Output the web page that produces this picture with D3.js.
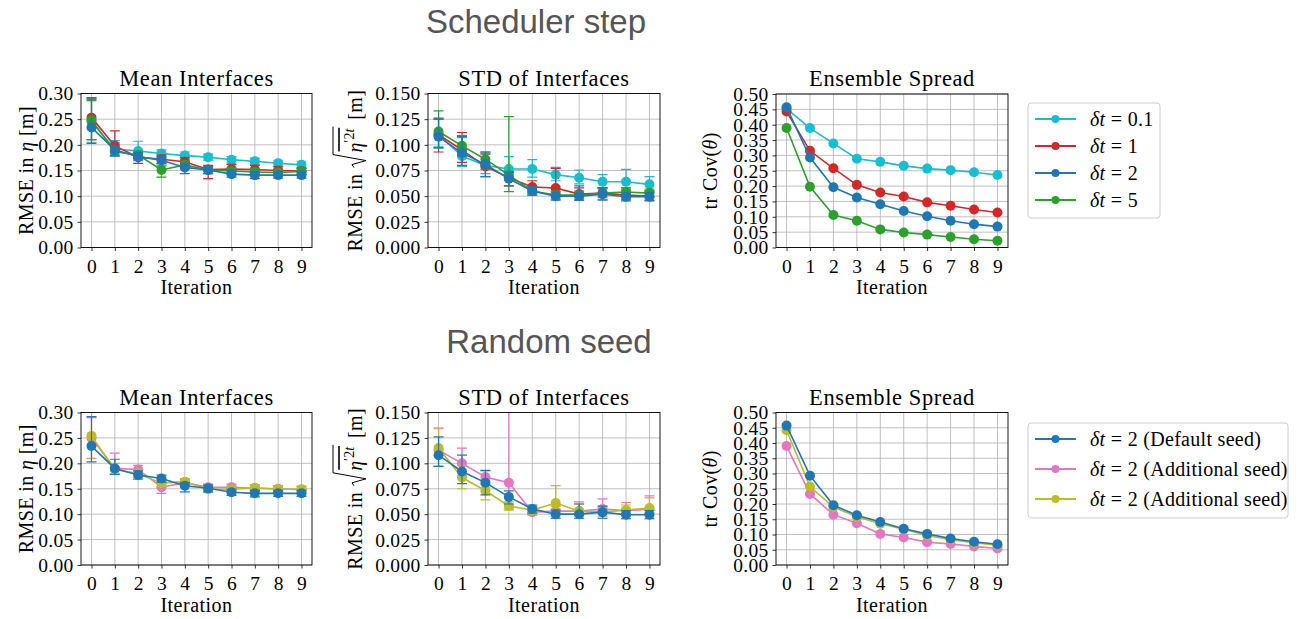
<!DOCTYPE html>
<html><head><meta charset="utf-8">
<script src="https://cdn.jsdelivr.net/npm/d3@7"></script>
<style>
body{margin:0;background:#fff;}
svg text{font-family:"Liberation Serif","Times New Roman",serif;fill:#000;}
</style></head><body>
<svg id="c" width="1303" height="619"></svg>
<script>
// ---------------- DATA ----------------
const iterations = [0,1,2,3,4,5,6,7,8,9];
const meanTicks = [0,0.05,0.10,0.15,0.20,0.25,0.30];
const stdTicks = [0,0.025,0.05,0.075,0.10,0.125,0.15];
const spreadTicks = [0,0.05,0.10,0.15,0.20,0.25,0.30,0.35,0.40,0.45,0.50];

const schedLabels = ["0.1","1","2","5"];
const seedLabels = ["(Default seed)","(Additional seed)","(Additional seed)"];

// Mean Interfaces (scheduler step)
const meanDt01 = [0.245,0.192,0.188,0.183,0.179,0.176,0.171,0.168,0.164,0.161];
const meanDt01Lo = [0.040,0.010,0.012,0.007,0.007,0.006,0.006,0.006,0.006,0.007];
const meanDt01Hi = [0.045,0.012,0.019,0.007,0.007,0.006,0.006,0.006,0.006,0.007];
const meanDt1 = [0.253,0.198,0.176,0.172,0.167,0.152,0.153,0.152,0.150,0.149];
const meanDt1Lo = [0.043,0.012,0.012,0.008,0.008,0.018,0.008,0.007,0.007,0.006];
const meanDt1Hi = [0.036,0.029,0.008,0.008,0.008,0.008,0.009,0.008,0.007,0.006];
const meanDt2 = [0.234,0.190,0.177,0.170,0.156,0.151,0.143,0.141,0.141,0.141];
const meanDt2Lo = [0.031,0.012,0.008,0.007,0.012,0.007,0.006,0.007,0.006,0.006];
const meanDt2Hi = [0.058,0.018,0.008,0.007,0.006,0.006,0.006,0.006,0.006,0.006];
const meanDt5 = [0.248,0.187,0.180,0.151,0.161,0.151,0.149,0.147,0.146,0.148];
const meanDt5Lo = [0.038,0.008,0.008,0.014,0.008,0.007,0.007,0.006,0.006,0.006];
const meanDt5Hi = [0.038,0.008,0.008,0.008,0.007,0.006,0.006,0.006,0.006,0.006];

// STD of Interfaces (scheduler step)
const stdDt01 = [0.110,0.089,0.080,0.0765,0.0765,0.071,0.068,0.064,0.064,0.0615];
const stdDt01Lo = [0.012,0.010,0.008,0.008,0.008,0.006,0.006,0.006,0.006,0.006];
const stdDt01Hi = [0.015,0.018,0.012,0.012,0.009,0.007,0.0075,0.007,0.012,0.0075];
const stdDt1 = [0.110,0.095,0.079,0.068,0.059,0.058,0.052,0.053,0.051,0.050];
const stdDt1Lo = [0.017,0.012,0.010,0.008,0.006,0.006,0.006,0.006,0.004,0.004];
const stdDt1Hi = [0.015,0.017,0.012,0.006,0.006,0.019,0.006,0.005,0.005,0.005];
const stdDt2 = [0.108,0.092,0.081,0.067,0.055,0.050,0.050,0.052,0.0495,0.0495];
const stdDt2Lo = [0.011,0.012,0.012,0.007,0.004,0.004,0.004,0.006,0.004,0.004];
const stdDt2Hi = [0.018,0.016,0.012,0.006,0.004,0.004,0.010,0.006,0.004,0.004];
const stdDt5 = [0.113,0.099,0.086,0.0705,0.055,0.051,0.051,0.053,0.054,0.053];
const stdDt5Lo = [0.016,0.010,0.010,0.016,0.004,0.004,0.004,0.004,0.004,0.004];
const stdDt5Hi = [0.020,0.010,0.007,0.057,0.004,0.004,0.004,0.004,0.004,0.004];

// Ensemble Spread (scheduler step)
const spreadDt01 = [0.452,0.389,0.339,0.289,0.279,0.266,0.257,0.252,0.245,0.236];
const spreadDt1 = [0.443,0.315,0.258,0.204,0.179,0.166,0.147,0.136,0.124,0.114];
const spreadDt2 = [0.457,0.293,0.196,0.163,0.141,0.119,0.102,0.087,0.076,0.068];
const spreadDt5 = [0.389,0.198,0.106,0.087,0.059,0.049,0.042,0.034,0.027,0.022];

// Random seed: additional seeds (seed A = pink, seed B = olive); default seed = dt=2 above
const meanSeedA = [0.250,0.190,0.188,0.153,0.162,0.153,0.153,0.151,0.150,0.148];
const meanSeedALo = [0.040,0.010,0.008,0.012,0.006,0.006,0.006,0.006,0.006,0.006];
const meanSeedAHi = [0.040,0.030,0.008,0.007,0.006,0.006,0.006,0.006,0.006,0.006];
const meanSeedB = [0.254,0.188,0.180,0.161,0.164,0.149,0.149,0.152,0.149,0.149];
const meanSeedBLo = [0.045,0.008,0.008,0.007,0.006,0.006,0.006,0.006,0.006,0.006];
const meanSeedBHi = [0.046,0.012,0.008,0.007,0.006,0.006,0.006,0.006,0.006,0.006];

const stdSeedA = [0.113,0.100,0.0865,0.081,0.052,0.053,0.053,0.055,0.0535,0.055];
const stdSeedALo = [0.016,0.012,0.010,0.026,0.003,0.003,0.004,0.004,0.004,0.004];
const stdSeedAHi = [0.021,0.015,0.006,0.200,0.005,0.005,0.009,0.010,0.008,0.013];
const stdSeedB = [0.115,0.086,0.073,0.058,0.054,0.061,0.053,0.052,0.054,0.056];
const stdSeedBLo = [0.018,0.011,0.009,0.004,0.004,0.006,0.004,0.004,0.004,0.005];
const stdSeedBHi = [0.020,0.012,0.006,0.004,0.004,0.017,0.007,0.005,0.005,0.010];

const spreadSeedA = [0.390,0.233,0.165,0.137,0.102,0.090,0.075,0.069,0.061,0.054];
const spreadSeedB = [0.442,0.257,0.190,0.158,0.135,0.117,0.097,0.083,0.073,0.065];

// colours
const C = {cyan:"#17becf", red:"#d62728", blue:"#1f77b4", green:"#2ca02c", pink:"#e377c2", olive:"#bcbd22"};

// ---------------- DRAW ----------------
const svg = d3.select("#c");
let clipId = 0;
const TICK_FS = "19.5px", LAB_FS = "20px";

function panel(o){
  const g = svg.append("g");
  const x = d3.scaleLinear().domain([-0.45, 9.45]).range([o.x0, o.x1]);
  const y = d3.scaleLinear().domain([0, o.ymax]).range([o.y1, o.y0]);
  // grid
  g.append("g").selectAll("line").data(iterations).join("line")
    .attr("x1", d=>x(d)).attr("x2", d=>x(d)).attr("y1", o.y0).attr("y2", o.y1)
    .attr("stroke","#b0b0b0").attr("stroke-width",0.8);
  g.append("g").selectAll("line").data(o.ticks).join("line")
    .attr("x1", o.x0).attr("x2", o.x1).attr("y1", d=>y(d)).attr("y2", d=>y(d))
    .attr("stroke","#b0b0b0").attr("stroke-width",0.8);
  // clip
  const id = "clip"+(clipId++);
  svg.append("clipPath").attr("id",id).append("rect")
    .attr("x",o.x0-8).attr("y",o.y0).attr("width",o.x1-o.x0+16).attr("height",o.y1-o.y0);
  const data = g.append("g").attr("clip-path",`url(#${id})`);
  const line = d3.line().x((d,i)=>x(iterations[i])).y(d=>y(d));
  o.series.forEach(s=>{
    const sg = data.append("g");
    sg.append("path").attr("d", line(s.values)).attr("fill","none")
      .attr("stroke", s.color).attr("stroke-width",1.6);
    if (s.lo){
      const eb = sg.append("g").attr("stroke", s.color).attr("stroke-width",1.2);
      s.values.forEach((v,i)=>{
        const xx = x(iterations[i]);
        const ya = y(v - s.lo[i]), yb = y(v + s.hi[i]);
        eb.append("line").attr("x1",xx).attr("x2",xx).attr("y1",ya).attr("y2",yb);
        eb.append("line").attr("x1",xx-5).attr("x2",xx+5).attr("y1",ya).attr("y2",ya);
        eb.append("line").attr("x1",xx-5).attr("x2",xx+5).attr("y1",yb).attr("y2",yb);
      });
    }
    sg.selectAll("circle").data(s.values).join("circle")
      .attr("cx",(d,i)=>x(iterations[i])).attr("cy",d=>y(d)).attr("r",5)
      .attr("fill", s.color);
  });
  // frame
  g.append("rect").attr("x",o.x0).attr("y",o.y0).attr("width",o.x1-o.x0).attr("height",o.y1-o.y0)
    .attr("fill","none").attr("stroke","#000").attr("stroke-width",0.9);
  // axes
  const xa = g.append("g").attr("transform",`translate(0,${o.y1})`)
    .call(d3.axisBottom(x).tickValues(iterations).tickSize(3.5).tickPadding(4).tickFormat(d3.format("d")));
  const ya = g.append("g").attr("transform",`translate(${o.x0},0)`)
    .call(d3.axisLeft(y).tickValues(o.ticks).tickSize(3.5).tickPadding(4).tickFormat(d3.format(o.fmt)));
  [xa,ya].forEach(a=>{
    a.select(".domain").remove();
    a.selectAll("line").attr("stroke","#000").attr("stroke-width",0.8);
    a.selectAll("text").style("font-size",TICK_FS).style("letter-spacing","0.3px").attr("font-family",null);
  });
  xa.selectAll("text").attr("dy","0.92em");
  ya.selectAll("text").attr("dy","0.33em");
  // title
  g.append("text").attr("x",(o.x0+o.x1)/2).attr("y",o.y0-8).attr("text-anchor","middle")
    .style("font-size","22.5px").style("letter-spacing","0.6px").text(o.title);
  g.append("text").attr("x",(o.x0+o.x1)/2).attr("y",o.y1+46.5).attr("text-anchor","middle")
    .style("font-size",LAB_FS).style("letter-spacing","0.5px").text("Iteration");
  o.ylabel(g, o);
  return g;
}

function ylabMean(g,o){
  const cy=(o.y0+o.y1)/2;
  const t = g.append("text").attr("transform",`translate(${o.x0-48},${cy}) rotate(-90)`)
    .attr("text-anchor","middle").style("font-size",LAB_FS).style("letter-spacing","0.4px");
  t.append("tspan").text("RMSE in ");
  t.append("tspan").style("font-style","italic").text("η");
  t.append("tspan").text(" [m]");
}
function ylabSpread(g,o){
  const cy=(o.y0+o.y1)/2;
  const t = g.append("text").attr("transform",`translate(${o.x0-59},${cy}) rotate(-90)`)
    .attr("text-anchor","middle").style("font-size",LAB_FS).style("letter-spacing","0.4px");
  t.append("tspan").text("tr Cov(");
  t.append("tspan").style("font-style","italic").text("θ");
  t.append("tspan").text(")");
}
function ylabStd(g,o){
  const cy=(o.y0+o.y1)/2;
  const grp = g.append("g");
  const t1 = grp.append("text").attr("x",0).attr("y",0).style("font-size",LAB_FS).style("letter-spacing","0.4px").text("RMSE in");
  let cx = t1.node().getComputedTextLength() + 6;
  const radX = cx;
  const cStart = radX + 15;
  const body = grp.append("text").attr("x",cStart).attr("y",0).style("font-size",LAB_FS);
  body.append("tspan").style("font-style","italic").text("η");
  body.append("tspan").attr("dy",-8).style("font-size","14px").text("′2");
  body.append("tspan").style("font-size","14px").style("font-style","italic").text("t");
  const bw = body.node().getComputedTextLength();
  const cEnd = cStart + bw + 2;
  grp.append("path").attr("d",`M${radX},-8 L${radX+3},-10 L${radX+7},4 L${radX+13},-29 L${cEnd},-29`)
    .attr("fill","none").attr("stroke","#000").attr("stroke-width",1);
  grp.append("line").attr("x1",cStart+1).attr("x2",cEnd-1).attr("y1",-23).attr("y2",-23)
    .attr("stroke","#000").attr("stroke-width",1.6);
  const t3 = grp.append("text").attr("x",cEnd+7).attr("y",0).style("font-size",LAB_FS).style("letter-spacing","0.4px").text("[m]");
  const W = cEnd + 7 + t3.node().getComputedTextLength();
  grp.attr("transform",`translate(${o.x0-66},${cy}) rotate(-90) translate(${-W/2},0)`);
}

function legend(x,y,w,h,items,rowGap){
  const g = svg.append("g");
  g.append("rect").attr("x",x).attr("y",y).attr("width",w).attr("height",h).attr("rx",3)
    .attr("fill","#fff").attr("fill-opacity",0.8).attr("stroke","#cccccc").attr("stroke-width",1);
  items.forEach((it,i)=>{
    const cy = y + 16 + i*rowGap;
    g.append("line").attr("x1",x+7).attr("x2",x+48).attr("y1",cy).attr("y2",cy)
      .attr("stroke",it.color).attr("stroke-width",1.8);
    g.append("circle").attr("cx",x+27.5).attr("cy",cy).attr("r",4).attr("fill",it.color);
    const t = g.append("text").attr("x",x+62).attr("y",cy).attr("dy","0.35em")
      .style("font-size","20px").style("letter-spacing","0.3px");
    t.append("tspan").style("font-style","italic").text("δt");
    t.append("tspan").text(" = " + it.value);
    if (it.extra) t.append("tspan").text(" " + it.extra);
  });
}

function suptitle(x,y,txt){
  svg.append("text").attr("x",x).attr("y",y).attr("text-anchor","middle")
    .style("font-family","'Liberation Sans',Arial,sans-serif").style("font-size","33px")
    .style("fill","#555555").text(txt);
}

// Top row
const schedColors = [C.cyan, C.red, C.blue, C.green];
panel({x0:81,x1:312,y0:93.5,y1:247.5,ymax:0.30,ticks:meanTicks,fmt:".2f",title:"Mean Interfaces",ylabel:ylabMean,
  series:[
    {color:C.cyan, values:meanDt01, lo:meanDt01Lo, hi:meanDt01Hi},
    {color:C.red, values:meanDt1, lo:meanDt1Lo, hi:meanDt1Hi},
    {color:C.green, values:meanDt5, lo:meanDt5Lo, hi:meanDt5Hi},
    {color:C.blue, values:meanDt2, lo:meanDt2Lo, hi:meanDt2Hi}]});
panel({x0:428,x1:660,y0:93.5,y1:247.5,ymax:0.15,ticks:stdTicks,fmt:".3f",title:"STD of Interfaces",ylabel:ylabStd,
  series:[
    {color:C.cyan, values:stdDt01, lo:stdDt01Lo, hi:stdDt01Hi},
    {color:C.red, values:stdDt1, lo:stdDt1Lo, hi:stdDt1Hi},
    {color:C.green, values:stdDt5, lo:stdDt5Lo, hi:stdDt5Hi},
    {color:C.blue, values:stdDt2, lo:stdDt2Lo, hi:stdDt2Hi}]});
panel({x0:776,x1:1008,y0:94,y1:247.5,ymax:0.50,ticks:spreadTicks,fmt:".2f",title:"Ensemble Spread",ylabel:ylabSpread,
  series:[
    {color:C.cyan, values:spreadDt01},
    {color:C.red, values:spreadDt1},
    {color:C.green, values:spreadDt5},
    {color:C.blue, values:spreadDt2}]});

// Bottom row
panel({x0:81,x1:312,y0:412.5,y1:565,ymax:0.30,ticks:meanTicks,fmt:".2f",title:"Mean Interfaces",ylabel:ylabMean,
  series:[
    {color:C.pink, values:meanSeedA, lo:meanSeedALo, hi:meanSeedAHi},
    {color:C.olive, values:meanSeedB, lo:meanSeedBLo, hi:meanSeedBHi},
    {color:C.blue, values:meanDt2, lo:meanDt2Lo, hi:meanDt2Hi}]});
panel({x0:428,x1:660,y0:412.5,y1:565,ymax:0.15,ticks:stdTicks,fmt:".3f",title:"STD of Interfaces",ylabel:ylabStd,
  series:[
    {color:C.pink, values:stdSeedA, lo:stdSeedALo, hi:stdSeedAHi},
    {color:C.olive, values:stdSeedB, lo:stdSeedBLo, hi:stdSeedBHi},
    {color:C.blue, values:stdDt2, lo:stdDt2Lo, hi:stdDt2Hi}]});
panel({x0:776,x1:1008,y0:412.5,y1:565,ymax:0.50,ticks:spreadTicks,fmt:".2f",title:"Ensemble Spread",ylabel:ylabSpread,
  series:[
    {color:C.pink, values:spreadSeedA},
    {color:C.olive, values:spreadSeedB},
    {color:C.blue, values:spreadDt2}]});

legend(1028,103,132,115, schedColors.map((c,i)=>({color:c, value:schedLabels[i]})), 27);
legend(1028,423,260,95, [C.blue,C.pink,C.olive].map((c,i)=>({color:c, value:"2", extra:seedLabels[i]})), 30);

suptitle(536,33,"Scheduler step");
suptitle(549,353,"Random seed");
</script>
</body></html>
